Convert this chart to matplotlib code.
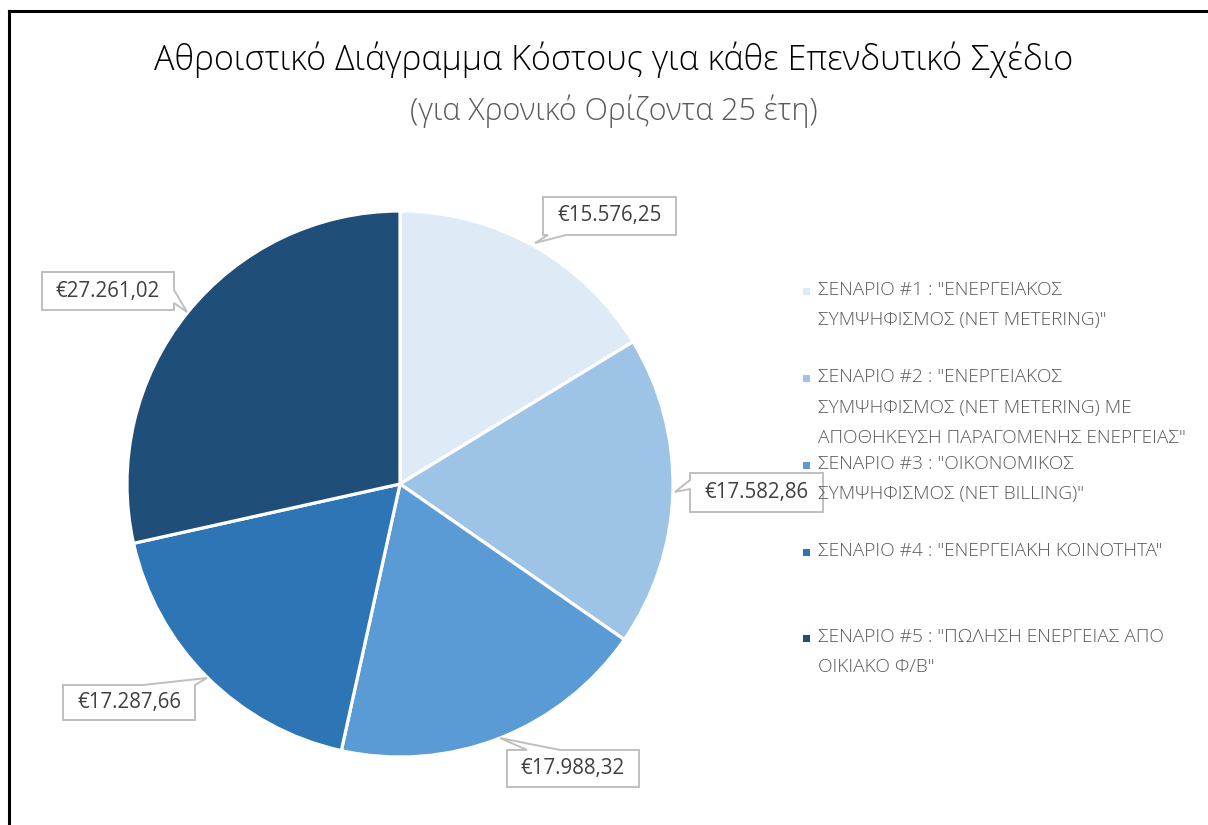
import matplotlib.pyplot as plt
from matplotlib.patches import Polygon
from matplotlib.lines import Line2D

plt.rcParams['font.family'] = ['Open Sans', 'DejaVu Sans']

# Cumulative cost per investment scenario (25-year horizon)
scenarios = [
    'ΣΕΝΑΡΙΟ #1 : "ΕΝΕΡΓΕΙΑΚΟΣ\nΣΥΜΨΗΦΙΣΜΟΣ (NET METERING)"',
    'ΣΕΝΑΡΙΟ #2 : "ΕΝΕΡΓΕΙΑΚΟΣ\nΣΥΜΨΗΦΙΣΜΟΣ (NET METERING) ΜΕ\nΑΠΟΘΗΚΕΥΣΗ ΠΑΡΑΓΟΜΕΝΗΣ ΕΝΕΡΓΕΙΑΣ"',
    'ΣΕΝΑΡΙΟ #3 : "ΟΙΚΟΝΟΜΙΚΟΣ\nΣΥΜΨΗΦΙΣΜΟΣ (NET BILLING)"',
    'ΣΕΝΑΡΙΟ #4 : "ΕΝΕΡΓΕΙΑΚΗ ΚΟΙΝΟΤΗΤΑ"',
    'ΣΕΝΑΡΙΟ #5 : "ΠΩΛΗΣΗ ΕΝΕΡΓΕΙΑΣ ΑΠΟ\nΟΙΚΙΑΚΟ Φ/Β"',
]
costs = [15576.25, 17582.86, 17988.32, 17287.66, 27261.02]
colors = ['#DEEBF7', '#9DC3E6', '#5B9BD5', '#2E75B6', '#1F4E79']

title = 'Αθροιστικό Διάγραμμα Κόστους για κάθε Επενδυτικό Σχέδιο'
subtitle = '(για Χρονικό Ορίζοντα 25 έτη)'


def euro(v):
    s = f'{v:,.2f}'
    return '€' + s.replace(',', 'X').replace('.', ',').replace('X', '.')


W, H = 1208, 825
fig = plt.figure(figsize=(W / 100, H / 100), dpi=100)
ax = fig.add_axes([0, 0, 1, 1])

cx, cy, r = 400, H - 484, 273
ax.pie(costs, colors=colors, startangle=90, counterclock=False,
       center=(cx, cy), radius=r,
       wedgeprops=dict(edgecolor='white', linewidth=2.3))
ax.set_xlim(0, W)
ax.set_ylim(0, H)
ax.set_aspect('equal')
ax.axis('off')

# frame lines (left and top)
ax.add_line(Line2D([9, 9], [0, H - 11], color='black', lw=2.2))
ax.add_line(Line2D([9, W], [H - 11, H - 11], color='black', lw=2.2))

ax.text(614, H - 60, title, ha='center', va='center', fontsize=24.6,
        color='black', fontweight='light')
ax.text(614, H - 111, subtitle, ha='center', va='center', fontsize=22,
        color='#595959', fontweight='light')

# callout boxes: (x0, y0, x1, y1) in pixels from top-left, tail base on an edge, tail tip
callouts = [
    ((543, 197, 676, 235), [(548, 235), (566, 235)], (535, 243)),
    ((690, 473, 823, 512), [(690, 480), (690, 489)], (675, 492)),
    ((507, 750, 639, 787), [(527, 750), (560, 750)], (500, 738)),
    ((63, 685, 195, 720), [(143, 685), (195, 685)], (207, 678)),
    ((42, 272, 174, 310), [(174, 290), (174, 303)], (187, 312)),
]
for v, (box, base, tip) in zip(costs, callouts):
    x0, y0, x1, y1 = box
    (bx0, by0), (bx1, by1) = base
    tx, ty = tip
    if by0 == y1 and by1 == y1:  # tail on bottom edge
        pts = [(x0, y0), (x1, y0), (x1, y1), (bx1, y1), (tx, ty), (bx0, y1), (x0, y1)]
    elif by0 == y0 and by1 == y0:  # tail on top edge
        pts = [(x0, y0), (bx0, y0), (tx, ty), (bx1, y0), (x1, y0), (x1, y1), (x0, y1)]
    elif bx0 == x0:  # tail on left edge
        pts = [(x0, y0), (x1, y0), (x1, y1), (x0, y1), (x0, by1), (tx, ty), (x0, by0)]
    else:  # tail on right edge
        pts = [(x0, y0), (x1, y0), (x1, by0), (tx, ty), (x1, by1), (x1, y1), (x0, y1)]
    pts = [(px, H - py) for px, py in pts]
    ax.add_patch(Polygon(pts, closed=True, facecolor='white', edgecolor='#BFBFBF',
                         lw=1.4, zorder=5))
    ax.text((x0 + x1) / 2, H - (y0 + y1) / 2, euro(v), ha='center', va='center',
            fontsize=14.8, color='#404040', zorder=6)

# legend
leg_top = [290, 377, 464, 551, 637]
line_h = 30.5
for lab, col, y in zip(scenarios, colors, leg_top):
    ax.add_patch(plt.Rectangle((803, H - y - 5), 7, 7, facecolor=col,
                               edgecolor='none', zorder=6))
    for i, ln in enumerate(lab.split('\n')):
        ax.text(818, H - (y + i * line_h), ln, ha='left', va='center',
                fontsize=13.8, color='#595959', fontweight='light', zorder=6)

fig.savefig('out.png', dpi=100, facecolor='white')
